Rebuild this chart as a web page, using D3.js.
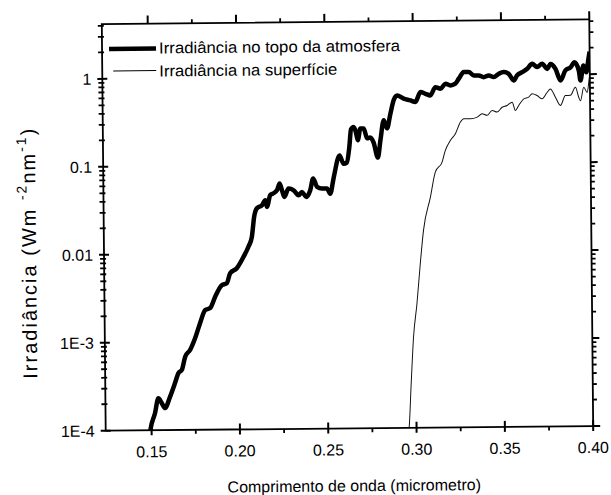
<!DOCTYPE html>
<html>
<head>
<meta charset="utf-8">
<script src="https://cdn.jsdelivr.net/npm/d3@7"></script>
<style>
body { margin: 0; background: #fff; }
text { font-family: "Liberation Sans", Arial, Helvetica, sans-serif; fill: #000; }
</style>
</head>
<body>
<svg id="chart" width="611" height="495"></svg>
<script>
// irradiância no topo da atmosfera (linha grossa)
var topoLambda = [0.149, 0.1495, 0.1520, 0.1540, 0.1559, 0.1577, 0.1606, 0.1635, 0.1655, 0.1674,
	0.1694, 0.1722, 0.1751, 0.1780, 0.1810, 0.1838, 0.1867, 0.1905, 0.1934, 0.1953,
	0.1991, 0.2029, 0.2058, 0.2078, 0.2092, 0.2108, 0.2137, 0.2156, 0.2165, 0.2184,
	0.2203, 0.2223, 0.2238, 0.2251, 0.2264, 0.2288, 0.2317, 0.2345, 0.2364, 0.2388,
	0.2411, 0.2428, 0.2450, 0.2477, 0.2506, 0.2524, 0.2545, 0.2579, 0.2601, 0.2620,
	0.2635, 0.2645, 0.2660, 0.2672, 0.2683, 0.2698, 0.2717, 0.2736, 0.2754, 0.2772,
	0.2796, 0.2811, 0.2831, 0.2849, 0.2869, 0.2888, 0.2908, 0.2945, 0.2983, 0.3011,
	0.3040, 0.3068, 0.3096, 0.3125, 0.3154, 0.3182, 0.3210, 0.3238, 0.3258, 0.3287,
	0.3315, 0.3343, 0.3371, 0.3399, 0.3428, 0.3456, 0.3485, 0.3513, 0.3541, 0.3569,
	0.3588, 0.3617, 0.3646, 0.3674, 0.3702, 0.3731, 0.3759, 0.3778, 0.3806, 0.3834,
	0.3862, 0.3891, 0.3914, 0.3938, 0.3947, 0.3964, 0.3980, 0.3993, 0.4000];
var topoValue = [0.9e-4, 1.05e-4, 1.56e-4, 2.30e-4, 2.03e-4, 1.78e-4, 2.39e-4, 3.42e-4, 4.44e-4, 4.8e-4,
	6.8e-4, 8.1e-4, 1.10e-3, 1.63e-3, 2.29e-3, 2.41e-3, 3.24e-3, 4.38e-3, 4.61e-3, 5.99e-3,
	6.8e-3, 9.1e-3, 0.0119, 0.0154, 0.026, 0.0325, 0.0352, 0.040, 0.0336, 0.0456,
	0.048, 0.0519, 0.0618, 0.0519, 0.0434, 0.054, 0.0516, 0.0453, 0.0492, 0.0432,
	0.0514, 0.0697, 0.056, 0.0535, 0.0535, 0.0468, 0.072, 0.127, 0.102, 0.105,
	0.16, 0.25, 0.266, 0.235, 0.188, 0.256, 0.255, 0.197, 0.202, 0.177,
	0.119, 0.186, 0.315, 0.255, 0.374, 0.530, 0.602, 0.552, 0.527, 0.504,
	0.653, 0.624, 0.597, 0.740, 0.71, 0.807, 0.771, 0.806, 0.918, 1.09,
	1.09, 0.995, 0.995, 0.95, 0.99, 0.95, 1.035, 1.08, 1.03, 0.864,
	0.985, 1.07, 1.17, 1.33, 1.22, 1.33, 1.16, 1.32, 1.16, 0.853,
	1.11, 1.20, 1.37, 1.10, 0.85, 1.26, 1.05, 1.49, 1.8];

// irradiância na superfície (linha fina)
var supLambda = [0.2955, 0.2958, 0.2972, 0.2988, 0.3009, 0.3030, 0.3050, 0.3091, 0.3120, 0.3159,
	0.3178, 0.3207, 0.3236, 0.3265, 0.3284, 0.3322, 0.3360, 0.3388, 0.3416, 0.3445,
	0.3473, 0.3502, 0.3530, 0.3559, 0.3577, 0.3596, 0.3625, 0.3653, 0.3672, 0.3700,
	0.3729, 0.3758, 0.3776, 0.3804, 0.3832, 0.3861, 0.3889, 0.3918, 0.3936, 0.3946,
	0.3965, 0.3984, 0.3995, 0.4000];
var supValue = [0.9e-4, 1.0e-4, 3.18e-4, 1.08e-3, 2.57e-3, 7.3e-3, 0.0175, 0.0417, 0.080, 0.104,
	0.141, 0.183, 0.218, 0.295, 0.321, 0.321, 0.334, 0.365, 0.349, 0.396,
	0.379, 0.43, 0.45, 0.49, 0.394, 0.449, 0.533, 0.556, 0.607, 0.58,
	0.531, 0.63, 0.687, 0.552, 0.444, 0.576, 0.577, 0.713, 0.548, 0.50,
	0.71, 0.62, 0.845, 1.0];

var xMajor = [0.15, 0.20, 0.25, 0.30, 0.35, 0.40];
var xMinor = [0.175, 0.225, 0.275, 0.325, 0.375];
var yMajor = [1e-4, 1e-3, 0.01, 0.1, 1];
var yLabels = ["1E-4", "1E-3", "0.01", "0.1", "1"];

var legendNames = ["Irradiância no topo da atmosfera", "Irradiância na superfície"];

var width = 487.5, height = 406.7;
var tilt = "rotate(-0.55,105.7,430.7) translate(105.7,24)";

var svg = d3.select("#chart");
// a figura original esta um pouco torta (scan)
var g = svg.append("g").attr("transform", tilt);

var x = d3.scaleLinear().domain([0.124, 0.4]).range([0, width]);
var y = d3.scaleLog().domain([1e-4, 4.2]).range([height, 0]);

// ticks menores do eixo log (2..9 de cada decada)
var yMinor = y.ticks().filter(function (d) {
	var l = Math.log10(d);
	return Math.abs(l - Math.round(l)) > 1e-6;
});

g.append("clipPath").attr("id", "clip")
	.append("rect").attr("width", width).attr("height", height);

// curvas
var valueline = d3.line()
	.x(function (d) { return x(d[0]); })
	.y(function (d) { return y(d[1]); })
	.curve(d3.curveMonotoneX);

var topo = topoLambda.map(function (l, i) { return [l, topoValue[i]]; });
var sup = supLambda.map(function (l, i) { return [l, supValue[i]]; });

var plot = g.append("g").attr("clip-path", "url(#clip)");
plot.append("path")
	.datum(sup)
	.attr("fill", "none")
	.attr("stroke", "#111")
	.attr("stroke-width", 1)
	.attr("d", valueline);
plot.append("path")
	.datum(topo)
	.attr("fill", "none")
	.attr("stroke", "#000")
	.attr("stroke-width", 4.5)
	.attr("stroke-linejoin", "round")
	.attr("d", valueline);

// rotulos dos ticks
g.append("g").selectAll("text")
	.data(xMajor)
	.enter().append("text")
	.attr("x", function (d) { return x(d); })
	.attr("y", height + 27)
	.attr("text-anchor", "middle")
	.attr("font-size", 16)
	.text(d3.format(".2f"));

g.append("g").selectAll("text")
	.data(yMajor)
	.enter().append("text")
	.attr("x", -11)
	.attr("y", function (d) { return y(d); })
	.attr("dy", "0.36em")
	.attr("text-anchor", "end")
	.attr("font-size", 16)
	.text(function (d, i) { return yLabels[i]; });

// legenda
var legend = g.append("g");
legend.append("path")
	.attr("d", "M7,25H54")
	.attr("stroke", "#000").attr("stroke-width", 4.5);
legend.append("path")
	.attr("d", "M11,47H54")
	.attr("stroke", "#000").attr("stroke-width", 1);
legend.append("text")
	.attr("x", 57).attr("y", 30)
	.attr("font-size", 16)
	.attr("textLength", 241).attr("lengthAdjust", "spacingAndGlyphs")
	.text(legendNames[0]);
legend.append("text")
	.attr("x", 57).attr("y", 53)
	.attr("font-size", 16)
	.attr("textLength", 178).attr("lengthAdjust", "spacingAndGlyphs")
	.text(legendNames[1]);

// titulos dos eixos
g.append("text")
	.attr("x", 248).attr("y", height + 63)
	.attr("text-anchor", "middle")
	.attr("font-size", 16)
	.text("Comprimento de onda (micrometro)");

var yTitle = g.append("text")
	.attr("transform", "translate(-68,228) rotate(-90)")
	.attr("text-anchor", "middle")
	.attr("font-size", 20)
	.attr("letter-spacing", 2);
yTitle.append("tspan").text("Irradiância (Wm  ");
yTitle.append("tspan").attr("font-size", 14).attr("dy", -9).text("-2");
yTitle.append("tspan").attr("dy", 9).text("nm");
yTitle.append("tspan").attr("font-size", 14).attr("dy", -9).text("-1");
yTitle.append("tspan").attr("dy", 9).text(")");

// moldura
g.append("rect")
	.attr("width", width)
	.attr("height", height)
	.attr("fill", "none")
	.attr("stroke", "#000")
	.attr("stroke-width", 1.8);

// ticks: um path por lado, num grupo proprio por cima de tudo
// side = bottom/top/left/right, inn = para dentro, out = para fora
var tickLayer = svg.append("g").attr("transform", tilt);

function ticks(values, side, inn, out, w) {
	var isX = side == "bottom" || side == "top";
	var scale = isX ? x : y;
	var base = { bottom: height, top: 0, left: 0, right: width }[side];
	var sign = (side == "bottom" || side == "right") ? 1 : -1;
	var a = base - sign * inn, b = base + sign * out;
	var d = "";
	values.forEach(function (v) {
		var p = scale(v);
		if (isX) {
			d += "M" + p + "," + a + "V" + b;
		}
		else {
			d += "M" + a + "," + p + "H" + b;
		}
	});
	tickLayer.append("path")
		.attr("d", d)
		.attr("fill", "none")
		.attr("stroke", "#000")
		.attr("stroke-width", w);
}

ticks(xMajor, "bottom", 6, 5, 2);
ticks(xMinor, "bottom", 0, 4, 1.8);
ticks(xMajor, "top", 0, 8, 2);
ticks(xMinor, "top", 0, 4, 1.8);
ticks(yMajor, "left", 5, 5, 2);
ticks(yMinor, "left", 2, 4, 1.8);
ticks(yMajor, "right", 0, 7, 2);
ticks(yMinor, "right", 0, 4, 1.8);
</script>
</body>
</html>
